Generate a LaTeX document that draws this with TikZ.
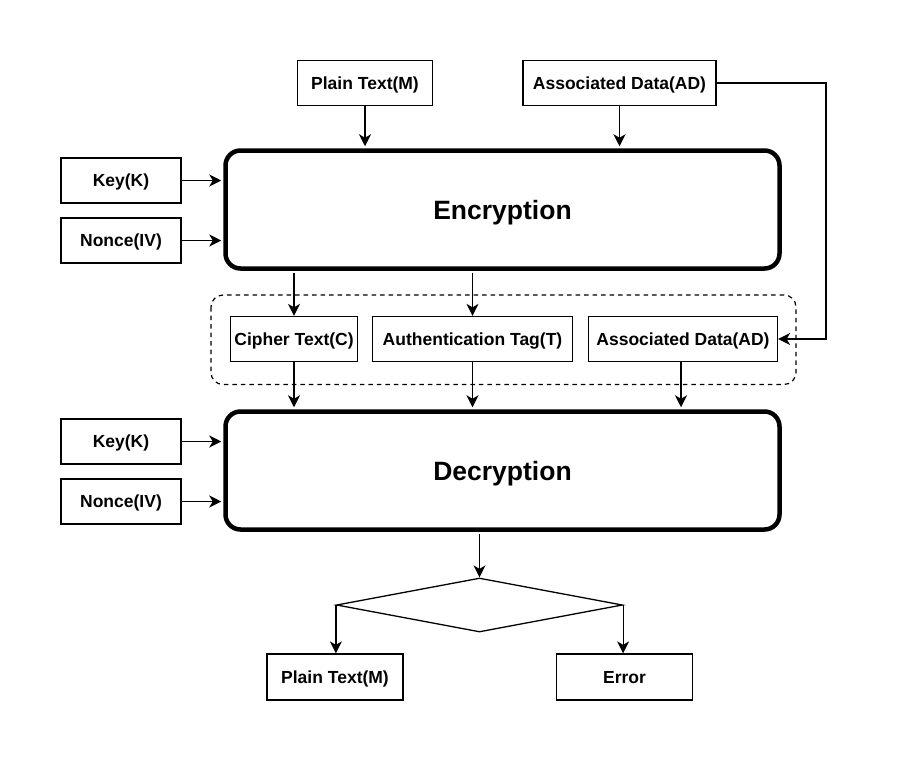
\documentclass[tikz,border=0pt]{standalone}
\usepackage{fontspec}
\setmainfont{Liberation Sans}
\usetikzlibrary{arrows.meta,shapes.geometric}
\begin{document}
\begin{tikzpicture}[x=1pt,y=-1pt,
  box/.style={draw,line width=1.3pt,minimum width=#1,minimum height=45pt,inner sep=0pt,
    text height=12.5pt,text depth=0pt,font=\fontsize{17.5}{20}\selectfont\bfseries},
  bigbox/.style={draw,line width=4.5pt,rounded corners=15pt,minimum width=554pt,
    minimum height=118pt,inner sep=0pt,text height=19pt,text depth=0pt,
    font=\fontsize{26.5}{30}\selectfont\bfseries},
  arr/.style={line width=1.3pt,-{Stealth[length=12pt 0,width=12pt 0,inset=3.5pt 0]}},
  grp/.style={draw,line width=1.2pt,dash pattern=on 4.5pt off 4pt,rounded corners=12pt}]
  \fill[white] (0,0) rectangle (899,761);
  \useasboundingbox (0,0) rectangle (899,761);

  % top inputs
  \node[box=135pt] (ptop) at (365,83) {Plain Text(M)};
  \node[box=193pt] (adtop) at (619.5,83) {Associated Data(AD)};
  \node[box=120pt] (key1) at (121,180.5) {Key(K)};
  \node[box=120pt] (nonce1) at (121,240.5) {Nonce(IV)};
  \node[bigbox] (enc) at (502.5,209.5) {Encryption};

  % middle group
  \draw[grp] (211,295) rectangle (796,384.5);
  \node[box=127pt] (cipher) at (294,339) {Cipher Text(C)};
  \node[box=200pt] (tag) at (472.5,339) {Authentication Tag(T)};
  \node[box=189pt] (admid) at (683,339) {Associated Data(AD)};

  % decryption
  \node[box=120pt] (key2) at (121,441.5) {Key(K)};
  \node[box=120pt] (nonce2) at (121,501.5) {Nonce(IV)};
  \node[bigbox] (dec) at (502.5,470.5) {Decryption};

  % decision
  \node[diamond,draw,line width=1.3pt,minimum width=286pt,minimum height=54pt,inner sep=0pt] (dia) at (479.5,605) {};
  \node[box=136pt,minimum height=46pt] (pbot) at (335,677) {Plain Text(M)};
  \node[box=136pt,minimum height=46pt] (err) at (624.5,677) {Error};

  \coordinate (loop) at (826,83);

  % connectors
  \draw[arr,shorten >=2pt] (ptop.south) -- (ptop.south |- enc.north);
  \draw[arr,shorten >=2pt] (adtop.south) -- (adtop.south |- enc.north);
  \draw[arr] (adtop.east) -- (loop) |- (admid.east);
  \draw[arr,shorten >=2pt] (key1.east) -- (key1.east -| enc.west);
  \draw[arr,shorten >=2pt] (nonce1.east) -- (nonce1.east -| enc.west);
  \draw[arr,shorten <=2pt] (cipher.north |- enc.south) -- (cipher.north);
  \draw[arr,shorten <=2pt] (tag.north |- enc.south) -- (tag.north);
  \draw[arr,shorten >=2pt] (cipher.south) -- (cipher.south |- dec.north);
  \draw[arr,shorten >=2pt] (tag.south) -- (tag.south |- dec.north);
  \draw[arr,shorten >=2pt] ([xshift=-2pt]admid.south) -- ([xshift=-2pt]admid.south |- dec.north);
  \draw[arr,shorten >=2pt] (key2.east) -- (key2.east -| dec.west);
  \draw[arr,shorten >=2pt] (nonce2.east) -- (nonce2.east -| dec.west);
  \draw[arr,shorten <=2pt] (dia.north |- dec.south) -- (dia.north);
  \draw[arr] (dia.west) -- (dia.west |- pbot.north);
  \draw[arr] (dia.east) -- (dia.east |- err.north);
\end{tikzpicture}
\end{document}
